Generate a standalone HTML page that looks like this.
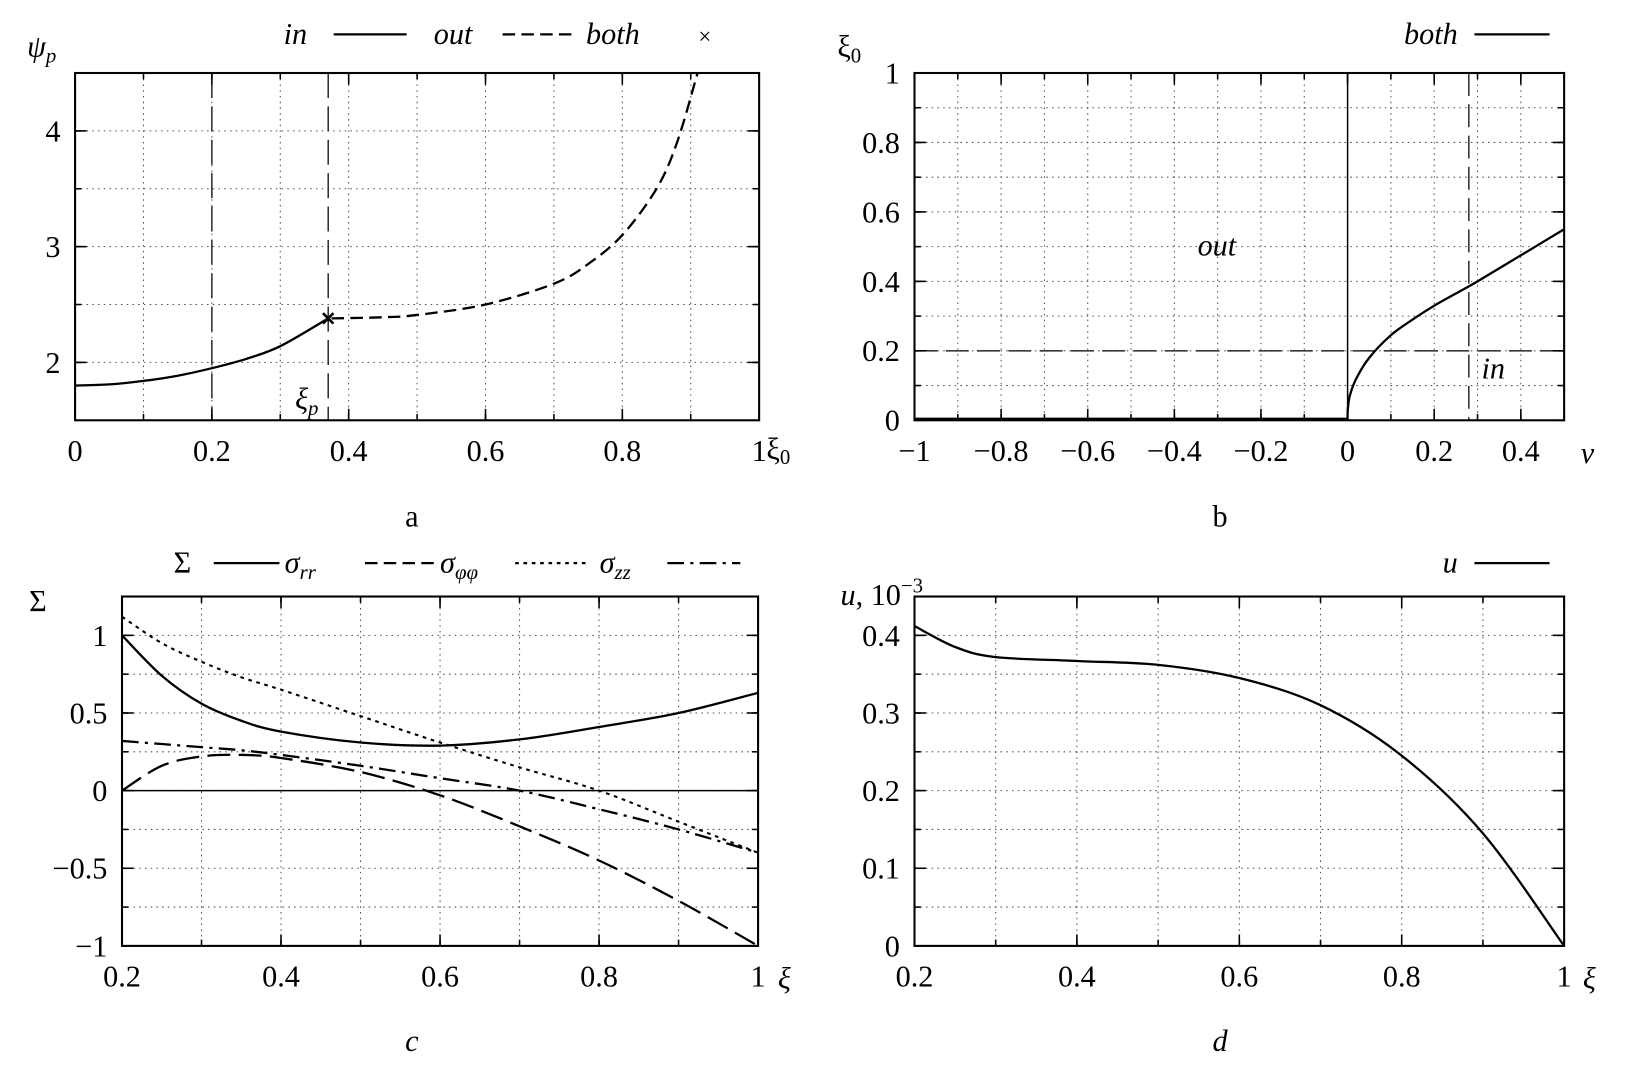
<!DOCTYPE html>
<html><head><meta charset="utf-8"><style>
html,body{margin:0;padding:0;background:#fff}
svg{display:block}
text{font-family:"Liberation Serif","DejaVu Serif",serif;fill:#000}
.it{font-style:italic}
</style></head><body>
<svg id="s" width="1634" height="1070" viewBox="0 0 1567 1026" preserveAspectRatio="none"></svg>
<script>
// Panel a data
const aInX=[0,0.05,0.1,0.15,0.2,0.25,0.3,0.37];
const aInY=[1.8,1.81,1.84,1.885,1.95,2.03,2.14,2.38];
const aOutX=[0.375,0.45,0.5,0.6,0.7,0.75,0.8,0.85,0.88,0.91];
const aOutY=[2.38,2.39,2.41,2.5,2.68,2.85,3.1,3.5,3.9,4.5];
const aBothX=[0.37];const aBothY=[2.38];
const aVLines=[0.2,0.37];
const aXTicks=[0,0.2,0.4,0.6,0.8,1];const aXTickLabels=["0","0.2","0.4","0.6","0.8","1"];
const aYTicks=[2,3,4];const aYTickLabels=["2","3","4"];
// Panel b data
const bCurveX=[0,0.0005,0.005,0.02,0.05,0.1,0.15,0.2,0.25,0.3,0.4,0.5];
const bCurveY=[0,0.03,0.07,0.12,0.18,0.245,0.29,0.33,0.365,0.4,0.475,0.55];
const bXTicks=[-1,-0.8,-0.6,-0.4,-0.2,0,0.2,0.4];const bXTickLabels=["\u22121","\u22120.8","\u22120.6","\u22120.4","\u22120.2","0","0.2","0.4"];
const bYTicks=[0,0.2,0.4,0.6,0.8,1];const bYTickLabels=["0","0.2","0.4","0.6","0.8","1"];
// Panel c data
const cX=[0.2,0.25,0.3,0.35,0.4,0.5,0.6,0.7,0.8,0.9,1];
const cRR=[1.0,0.74,0.56,0.45,0.38,0.31,0.29,0.33,0.41,0.5,0.63];
const cPP=[0,0.16,0.22,0.23,0.21,0.12,-0.03,-0.23,-0.45,-0.71,-1.0];
const cZZ=[1.12,0.95,0.83,0.73,0.65,0.48,0.31,0.15,0,-0.2,-0.4];
const cDD=[0.32,0.3,0.28,0.26,0.23,0.16,0.08,0,-0.12,-0.25,-0.4];
const cXTicks=[0.2,0.4,0.6,0.8,1];const cXTickLabels=["0.2","0.4","0.6","0.8","1"];
const cYTicks=[-1,-0.5,0,0.5,1];const cYTickLabels=["\u22121","\u22120.5","0","0.5","1"];
// Panel d data
const dX=[0.2,0.25,0.3,0.4,0.5,0.6,0.7,0.8,0.9,1];
const dU=[0.412,0.385,0.372,0.367,0.362,0.345,0.31,0.245,0.145,0];
const dXTicks=[0.2,0.4,0.6,0.8,1];const dXTickLabels=["0.2","0.4","0.6","0.8","1"];
const dYTicks=[0,0.1,0.2,0.3,0.4];const dYTickLabels=["0","0.1","0.2","0.3","0.4"];

const S=document.getElementById('s');const NS="http://www.w3.org/2000/svg";
function el(t,a,p){const e=document.createElementNS(NS,t);for(const k in a)e.setAttribute(k,a[k]);(p||S).appendChild(e);return e;}
function txt(x,y,s,size,anchor,cls,name){const e=el('text',{x:x,y:y,'font-size':size,'text-anchor':anchor||'start'});if(cls)e.setAttribute('class',cls);e.innerHTML=s;


return e;}
function axes(L,R,T,B,x0,x1,y0,y1,xg,yg,xt,xtl,yt,ytl,name){
 const g=el('g',{});
 
 
 const sx=v=>L+(v-x0)/(x1-x0)*(R-L), sy=v=>B-(v-y0)/(y1-y0)*(B-T);
 for(let v=x0;v<=x1+1e-9;v+=xg){const x=sx(v);el('line',{x1:x,x2:x,y1:T,y2:B,stroke:'#555','stroke-width':1,'stroke-dasharray':'1.5,4'},g);
  el('line',{x1:x,x2:x,y1:B,y2:B-6,stroke:'#000','stroke-width':1.5},g);el('line',{x1:x,x2:x,y1:T,y2:T+6,stroke:'#000','stroke-width':1.5},g);}
 for(let v=y0;v<=y1+1e-9;v+=yg){const y=sy(v);el('line',{x1:L,x2:R,y1:y,y2:y,stroke:'#555','stroke-width':1,'stroke-dasharray':'1.5,4'},g);
  el('line',{x1:L,x2:L+6,y1:y,y2:y,stroke:'#000','stroke-width':1.5},g);el('line',{x1:R,x2:R-6,y1:y,y2:y,stroke:'#000','stroke-width':1.5},g);}
 xt.forEach((v,i)=>{el('line',{x1:sx(v),x2:sx(v),y1:B,y2:B-11,stroke:'#000','stroke-width':1.5},g);el('line',{x1:sx(v),x2:sx(v),y1:T,y2:T+11,stroke:'#000','stroke-width':1.5},g);
  txt(sx(v),B+39,xtl[i],29,'middle',null,'x-tick-label');});
 yt.forEach((v,i)=>{el('line',{x1:L,x2:L+11,y1:sy(v),y2:sy(v),stroke:'#000','stroke-width':1.5},g);el('line',{x1:R,x2:R-11,y1:sy(v),y2:sy(v),stroke:'#000','stroke-width':1.5},g);
  txt(L-14,sy(v)+10,ytl[i],29,'end',null,'y-tick-label');});
 el('rect',{x:L,y:T,width:R-L,height:B-T,fill:'none',stroke:'#000','stroke-width':2},g);
 return {sx,sy};
}
function curve(xs,ys,ax,dash,w,name){
 const p=xs.map((x,i)=>[ax.sx(x),ax.sy(ys[i])]);let d='M'+p[0][0]+','+p[0][1];
 for(let i=0;i<p.length-1;i++){const p0=p[Math.max(0,i-1)],p1=p[i],p2=p[i+1],p3=p[Math.min(p.length-1,i+2)];
  d+=' C'+(p1[0]+(p2[0]-p0[0])/6)+','+(p1[1]+(p2[1]-p0[1])/6)+' '+(p2[0]-(p3[0]-p1[0])/6)+','+(p2[1]-(p3[1]-p1[1])/6)+' '+p2[0]+','+p2[1];}
 const e=el('path',{d:d,fill:'none',stroke:'#000','stroke-width':w||2.2});if(dash)e.setAttribute('stroke-dasharray',dash);
 
 
 return e;}
function leg(x1,x2,y,dash,name){const e=el('line',{x1:x1,x2:x2,y1:y,y2:y,stroke:'#000','stroke-width':2.2});if(dash)e.setAttribute('stroke-dasharray',dash);
 
 }

// Panel a
const A=axes(72,728,70,403,0,1,1.5,4.5,0.1,0.5,aXTicks,aXTickLabels,aYTicks,aYTickLabels,'panel-a-axes');
aVLines.forEach(v=>{const l=el('line',{x1:A.sx(v),x2:A.sx(v),y1:70,y2:403,stroke:'#000','stroke-width':1.2,'stroke-dasharray':'24,8'});
 
 });
curve(aInX,aInY,A,null,2.2,'in-curve');
curve(aOutX,aOutY,A,'12,6',2.2,'out-curve');
aBothX.forEach((v,i)=>{const x=A.sx(v),y=A.sy(aBothY[i]);const m=el('path',{d:`M${x-5},${y-5}L${x+5},${y+5}M${x-5},${y+5}L${x+5},${y-5}`,stroke:'#000','stroke-width':2.5});
 
 });
txt(283,392,'ξ<tspan font-size="20" dy="6">p</tspan>',29,'start','it','xi-p-label');
txt(26,54,'ψ<tspan font-size="20" dy="6">p</tspan>',29,'start','it','y-axis-title-a');
txt(735,440,'ξ<tspan font-size="20" dy="5">0</tspan>',29,'start',null,'x-axis-title-a');
txt(395,505,'a',29,'middle',null,'caption-a');
txt(272,42,'in',29,'start','it','legend-in');leg(320,390,33,null,'legend-in-line');
txt(416,42,'out',29,'start','it','legend-out');leg(482,552,33,'12,6','legend-out-line');
txt(562,42,'both',29,'start','it','legend-both');txt(676,42,'×',22,'middle',null,'legend-both-marker');

// Panel b
const B=axes(877,1500,70,403,-1,0.5,0,1,0.1,0.1,bXTicks,bXTickLabels,bYTicks,bYTickLabels,'panel-b-axes');
{const l=el('line',{x1:B.sx(0),x2:B.sx(0),y1:70,y2:403,stroke:'#000','stroke-width':1.4});
 const h=el('line',{x1:877,x2:1500,y1:B.sy(0.2),y2:B.sy(0.2),stroke:'#000','stroke-width':1.2,'stroke-dasharray':'22,8'});
 const v=el('line',{x1:B.sx(0.28),x2:B.sx(0.28),y1:70,y2:403,stroke:'#000','stroke-width':1.2,'stroke-dasharray':'22,8'});
 const z=el('line',{x1:877,x2:B.sx(0),y1:402,y2:402,stroke:'#000','stroke-width':3});}
curve(bCurveX,bCurveY,B,null,2.2,'both-curve');
txt(1167,245,'out',29,'middle','it','region-out-label');
txt(1432,363,'in',29,'middle','it','region-in-label');
txt(803,54,'ξ<tspan font-size="20" dy="6">0</tspan>',29,'start',null,'y-axis-title-b');
txt(1516,444,'ν',29,'start','it','x-axis-title-b');
txt(1170,505,'b',29,'middle',null,'caption-b');
txt(1398,42,'both',29,'end','it','legend-both-b');leg(1414,1486,33,null,'legend-both-b-line');

// Panel c
const C=axes(117,727,572,907,0.2,1,-1,1.25,0.1,0.25,cXTicks,cXTickLabels,cYTicks,cYTickLabels,'panel-c-axes');
{const z=el('line',{x1:117,x2:727,y1:C.sy(0),y2:C.sy(0),stroke:'#000','stroke-width':1.4});}
curve(cX,cRR,C,null,2.2,'sigma-rr-curve');
curve(cX,cPP,C,'22,8',2.2,'sigma-phiphi-curve');
curve(cX,cZZ,C,'3.5,4.5',2,'sigma-zz-curve');
curve(cX,cDD,C,'16,6,3,6',2.2,'sigma-dashdot-curve');
txt(175,549,'Σ',29,'middle',null,'legend-sigma');leg(205,268,540,null,'legend-rr-line');
txt(273,549,'σ<tspan font-size="20" dy="6">rr</tspan>',29,'start','it','legend-sigma-rr');leg(350,416,540,'12,6','legend-phiphi-line');
txt(422,549,'σ<tspan font-size="20" dy="6">φφ</tspan>',29,'start','it','legend-sigma-phiphi');leg(494,565,540,'3.5,4.5','legend-zz-line');
txt(575,549,'σ<tspan font-size="20" dy="6">zz</tspan>',29,'start','it','legend-sigma-zz');leg(640,710,540,'16,6,3,6','legend-dashdot-line');
txt(28,586,'Σ',29,'start',null,'y-axis-title-c');
txt(746,948,'ξ',29,'start','it','x-axis-title-c');
txt(395,1008,'c',29,'middle','it','caption-c');

// Panel d
const D=axes(877,1500,572,907,0.2,1,0,0.45,0.1,0.05,dXTicks,dXTickLabels,dYTicks,dYTickLabels,'panel-d-axes');
curve(dX,dU,D,null,2.2,'u-curve');
txt(806,580,'<tspan class="it">u</tspan>, 10<tspan font-size="20" dy="-12">−3</tspan>',29,'start',null,'y-axis-title-d');
txt(1518,948,'ξ',29,'start','it','x-axis-title-d');
txt(1170,1008,'d',29,'middle','it','caption-d');
txt(1398,549,'u',29,'end','it','legend-u');leg(1414,1486,540,null,'legend-u-line');
</script>
</body></html>
